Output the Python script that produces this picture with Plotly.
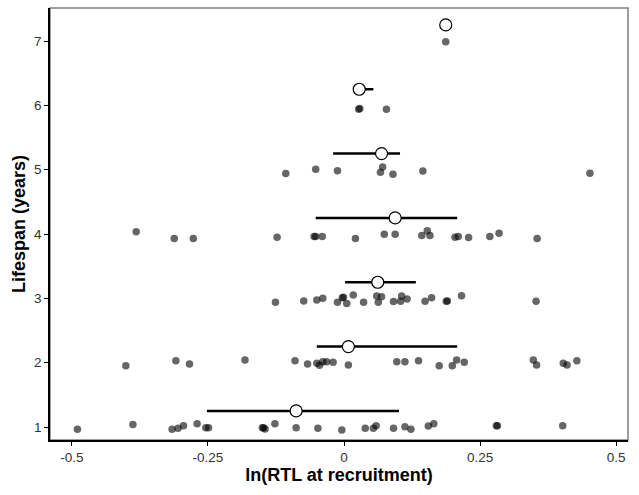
import plotly.graph_objects as go

# Individual birds: ln(RTL at recruitment) and lifespan (jittered vertical position)
rtl_1 = [-0.490, -0.388, -0.316, -0.305, -0.295, -0.270, -0.254, -0.249, -0.150, -0.148, -0.145,
         -0.127, -0.088, -0.048, -0.004, 0.039, 0.054, 0.059, 0.091, 0.112, 0.123, 0.155, 0.165,
         0.280, 0.282, 0.402]
life_1 = [0.964, 1.04, 0.964, 0.98, 1.02, 1.05, 0.99, 0.99, 0.99, 0.99, 0.97,
          1.05, 0.99, 0.98, 0.953, 0.98, 0.98, 1.02, 0.98, 1.005, 0.964, 1.015, 1.05,
          1.02, 1.02, 1.02]
rtl_2 = [-0.401, -0.309, -0.284, -0.182, -0.090, -0.067, -0.050, -0.045, -0.039, -0.032, -0.020,
         0.008, 0.097, 0.112, 0.137, 0.175, 0.199, 0.207, 0.221, 0.348, 0.354, 0.403, 0.410, 0.428]
life_2 = [1.953, 2.03, 1.98, 2.04, 2.03, 1.98, 1.99, 1.96, 2.015, 2.015, 2.005,
          1.965, 2.015, 2.015, 2.03, 1.953, 1.953, 2.04, 2.005, 2.04, 1.965, 1.99, 1.965, 2.03]
rtl_3 = [-0.126, -0.074, -0.050, -0.039, -0.012, -0.001, -0.003, 0.005, 0.017, 0.036, 0.060,
         0.063, 0.069, 0.091, 0.104, 0.106, 0.116, 0.149, 0.161, 0.188, 0.190, 0.216, 0.353]
life_3 = [2.94, 2.96, 2.975, 3.0, 2.94, 3.015, 3.01, 2.92, 3.05, 2.94, 3.035,
          2.94, 3.025, 2.95, 2.955, 3.035, 2.99, 2.955, 3.01, 2.955, 2.96, 3.04, 2.955]
rtl_4 = [-0.382, -0.312, -0.277, -0.123, -0.055, -0.052, -0.040, 0.021, 0.074, 0.094, 0.143,
         0.153, 0.158, 0.204, 0.210, 0.229, 0.268, 0.285, 0.355]
life_4 = [4.035, 3.93, 3.93, 3.95, 3.96, 3.96, 3.96, 3.93, 3.995, 3.995, 3.975,
          4.05, 3.975, 3.95, 3.96, 3.945, 3.96, 4.01, 3.93]
rtl_5 = [-0.107, -0.052, -0.012, 0.067, 0.071, 0.090, 0.145, 0.452]
life_5 = [4.94, 5.005, 4.985, 4.96, 5.04, 4.93, 4.98, 4.945]
rtl_6 = [0.027, 0.029, 0.078]
life_6 = [5.94, 5.95, 5.94]
rtl_7 = [0.187]
life_7 = [6.99]

# Summary per lifespan: median and interquartile range
summary_y = [1.25, 2.25, 3.25, 4.25, 5.25, 6.25, 7.25]
median_rtl = [-0.088, 0.008, 0.062, 0.094, 0.069, 0.028, 0.187]
q1_rtl = [-0.252, -0.050, 0.002, -0.052, -0.020, 0.028, 0.187]
q3_rtl = [0.101, 0.208, 0.132, 0.208, 0.103, 0.054, 0.187]

x_ticks = [-0.5, -0.25, 0, 0.25, 0.5]
x_tick_labels = ["-0.5", "-0.25", "0", "0.25", "0.5"]
y_ticks = [1, 2, 3, 4, 5, 6, 7]

all_x = rtl_1 + rtl_2 + rtl_3 + rtl_4 + rtl_5 + rtl_6 + rtl_7
all_y = life_1 + life_2 + life_3 + life_4 + life_5 + life_6 + life_7

fig = go.Figure()
fig.add_trace(go.Scatter(
    x=all_x, y=all_y, mode="markers",
    marker=dict(size=7.5, color="rgba(0,0,0,0.6)", line=dict(width=0)),
    showlegend=False, hoverinfo="x+y"))

fig.add_trace(go.Scatter(
    x=median_rtl, y=summary_y, mode="markers",
    marker=dict(size=12, color="white", line=dict(color="black", width=1.2)),
    error_x=dict(type="data", symmetric=False,
                 array=[h - m for h, m in zip(q3_rtl, median_rtl)],
                 arrayminus=[m - l for m, l in zip(median_rtl, q1_rtl)],
                 width=0, thickness=2.5, color="black"),
    showlegend=False))

font_family = "Liberation Sans, Arial, sans-serif"
fig.update_layout(
    width=639, height=495,
    margin=dict(l=50, r=11, t=8, b=55),
    paper_bgcolor="white", plot_bgcolor="white",
    font=dict(family=font_family, color="#333333", size=12),
    xaxis=dict(range=[-0.5404, 0.522], tickvals=x_ticks, ticktext=x_tick_labels,
               showgrid=False, zeroline=False, showline=True, linecolor="black", linewidth=1.5,
               ticks="outside", ticklen=4, tickcolor="black", tickwidth=1,
               tickfont=dict(size=13.5, color="#333333"),
               title=dict(text="<b>ln(RTL at recruitment)</b>", font=dict(size=18, color="black"),
                          standoff=2)),
    yaxis=dict(range=[0.798, 7.513], tickvals=y_ticks,
               showgrid=False, zeroline=False, showline=True, linecolor="black", linewidth=1.5,
               ticks="outside", ticklen=4, tickcolor="black", tickwidth=1,
               tickfont=dict(size=13.5, color="#333333"),
               title=dict(text="<b>Lifespan (years)</b>", font=dict(size=18, color="black"),
                          standoff=4)),
    shapes=[dict(type="rect", xref="paper", yref="paper", x0=0, y0=0, x1=1, y1=1,
                 line=dict(color="#7f7f7f", width=1.5), layer="below")],
)

fig.write_html("out.html")
